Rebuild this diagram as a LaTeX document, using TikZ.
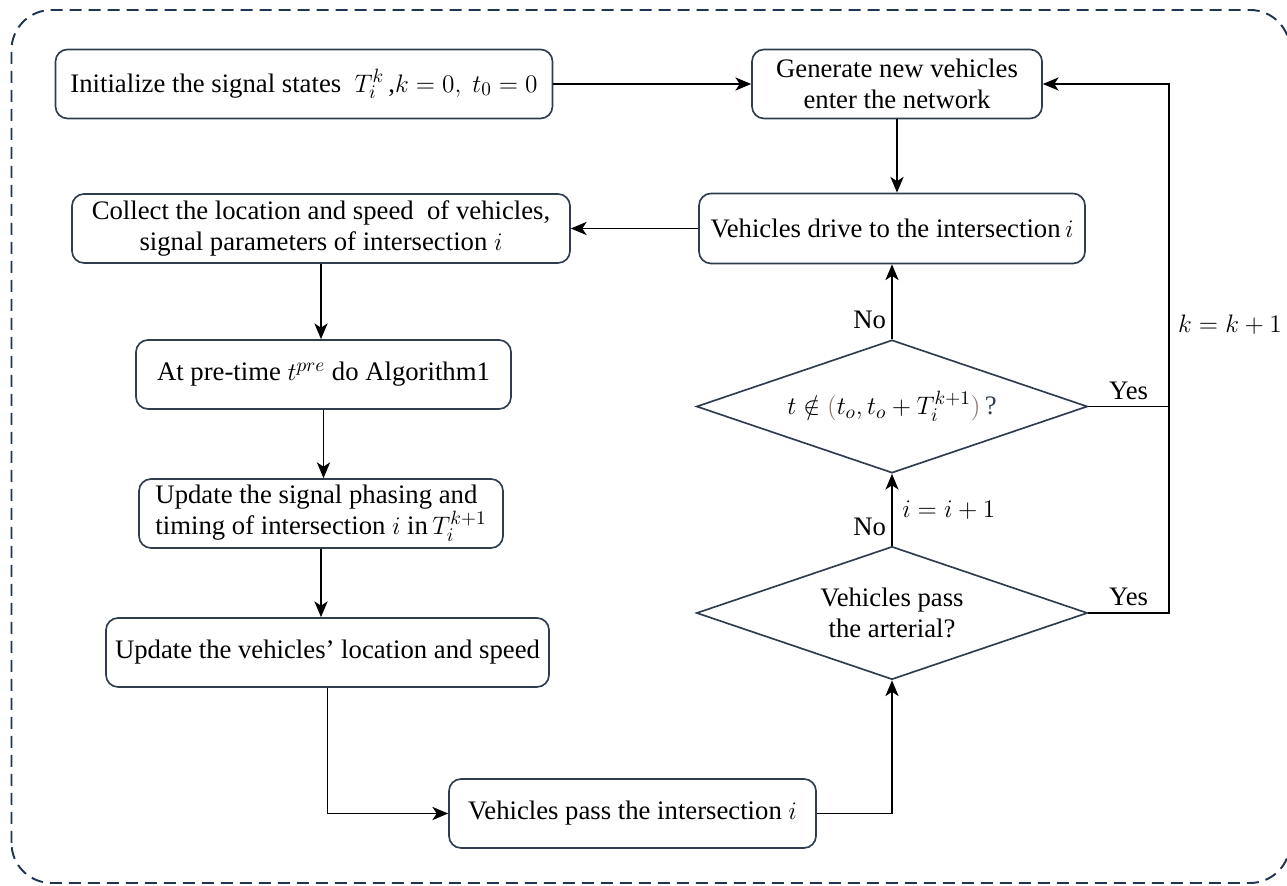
\documentclass[tikz,border=0pt]{standalone}
\usepackage{fontspec}
\setmainfont{Liberation Serif}
\usetikzlibrary{shapes.geometric,arrows.meta}
\definecolor{framecol}{HTML}{1F3552}
\definecolor{boxcol}{HTML}{2F3D4F}
\definecolor{parcol}{HTML}{8A7266}
\begin{document}
\begin{tikzpicture}[font=\fontsize{15.2}{18}\selectfont]
\useasboundingbox (0,0) rectangle (25.74,17.72);
\clip (0,0) rectangle (25.74,17.72);
\draw[framecol, line width=1.1pt, dash pattern=on 0.24cm off 0.14cm, rounded corners=0.8cm] (0.23,0.06) rectangle (25.8,17.52);

\tikzset{box/.style={draw=boxcol, line width=0.95pt, rounded corners=0.24cm, minimum height=1.38cm, inner sep=2pt, align=center}};
\tikzset{test/.style={draw=boxcol, line width=0.95pt, shape=diamond, aspect=2.94, minimum width=7.82cm, minimum height=2.66cm, inner sep=1pt, align=center}};
\tikzset{flow/.style={-{Stealth[length=9pt,width=7.5pt,inset=2.5pt]}, line width=1pt}};
\tikzset{wire/.style={line width=1pt}};

\node[box, minimum width=9.94cm] (init) at (6.08,16.04) {Initialize the signal states~ $T_i^k$\,,$k=0,\ t_0=0$};
\node[box, minimum width=5.8cm] (gen) at (17.94,16.04) {Generate new vehicles\\enter the network};
\node[box, minimum width=7.72cm, minimum height=1.4cm] (drive) at (17.84,13.15) {Vehicles drive to the intersection\,$i$};
\node[box, minimum width=9.96cm] (collect) at (6.42,13.15) {Collect the location and speed~ of vehicles,\\signal parameters of intersection $i$};
\node[box, minimum width=7.5cm] (atpre) at (6.47,10.23) {At pre-time $t^{pre}$ do Algorithm1};
\node[box, minimum width=7.28cm, align=left, font=\fontsize{15.2}{15.2}\selectfont] (upsig) at (6.42,7.45) {Update the signal phasing and\\timing of intersection $i$ in\,$T_i^{k+1}$};
\node[box, minimum width=8.86cm] (upveh) at (6.55,4.67) {Update the vehicles’ location and speed};
\node[box, minimum width=7.34cm] (pass) at (12.65,1.45) {Vehicles pass the intersection $i$};
\node[test] (dec1) at (17.84,9.59) {$t \notin {\color{parcol}\bigl(}t_o, t_o + T_i^{k+1}{\color{parcol}\bigr)}$\,{\color{boxcol}?}};
\node[test] (dec2) at (17.84,5.46) {Vehicles pass\\the arterial?};
\coordinate (rt) at (23.38,0);

\path (init) edge [flow] (gen);
\path (gen.south) edge [flow] (gen.south |- drive.north);
\path (drive) edge [flow] (collect);
\path (collect.south) edge [flow] (collect.south |- atpre.north);
\path (atpre.south) edge [flow] (atpre.south |- upsig.north);
\path (upsig.south) edge [flow] (upsig.south |- upveh.north);
\draw[flow] (upveh.south) |- (pass.west);
\draw[flow] (pass.east) -| (dec2.south);
\path (dec2) edge [flow] node[right, xshift=2pt] (inc) {$i=i+1$} (dec1);
\path (dec1) edge [flow] (drive);
\draw[wire] (dec1.east) -- node[above] (yes1) {Yes} (dec1.east -| rt);
\draw[flow] (dec2.east) -- node[above] (yes2) {Yes} (dec2.east -| rt) -- (gen.east -| rt) -- (gen.east);

\node[anchor=south east, inner sep=1pt, xshift=-0.08cm, yshift=0.16cm] (no1) at (dec1.north) {No};
\node[anchor=south east, inner sep=1pt, xshift=-0.08cm, yshift=0.16cm] (no2) at (dec2.north) {No};
\node[anchor=east, inner sep=1pt, font=\fontsize{14}{17}\selectfont] (kinc) at (25.68,11.22) {$k=k+1$};
\end{tikzpicture}
\end{document}
